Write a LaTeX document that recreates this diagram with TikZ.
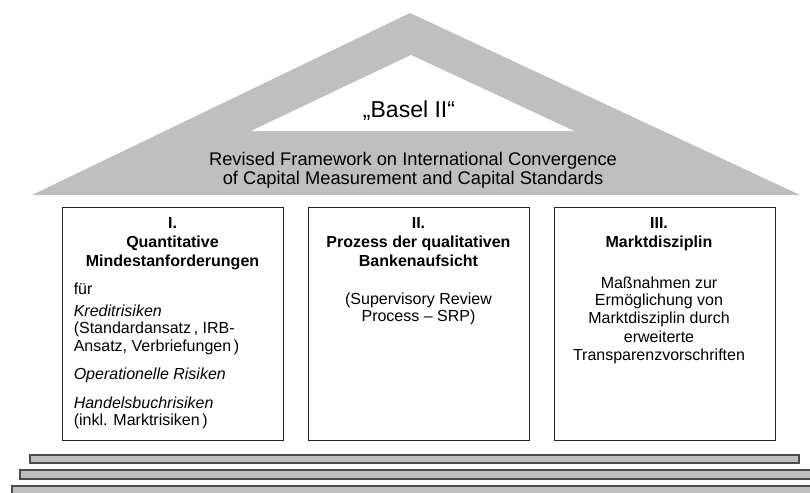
\documentclass[tikz,border=0pt]{standalone}
\usepackage{fontspec}
\setmainfont{Liberation Sans}
\usetikzlibrary{positioning}

\tikzset{
  saeule/.style={draw=black!85, line width=0.8pt, fill=white, minimum width=221pt, minimum height=233pt, inner sep=0pt},
  stufe/.style={draw=black!70, line width=1.2pt, fill=black!25},
  kopf/.style={font=\bfseries\fontsize{16}{19}\selectfont, align=center, inner sep=0pt},
  rumpf/.style={font=\fontsize{16}{17.5}\selectfont, inner sep=0pt}
}

\begin{document}
\begin{tikzpicture}[x=1pt,y=1pt,yscale=-1,xscale=1]
\useasboundingbox (0,0) rectangle (810,492);

%Shape: Roof [outer triangle]
\fill [black!25] (32,195) -- (410,13) -- (800,195) -- cycle ;
%Shape: Roof [inner triangle]
\fill [white] (251,131) -- (411,55) -- (574,131) -- cycle ;

% Text Node
\node (basel) at (409,111) {\fontsize{23}{27}\selectfont „Basel II“};
% Text Node
\node (rahmen) at (413,170.5) [align=center, font=\fontsize{18.3}{19}\selectfont] {Revised Framework on International Convergence\\of Capital Measurement and Capital Standards};

%Shape: Pillars
\node [saeule] (p1) at (172.5,323.5) {};
\node [saeule] (p2) at (418.5,323.5) {};
\node [saeule] (p3) at (665,323.5) {};

% Text Node
\node [kopf, below=11pt of p1.north] (k1) {I.\\Quantitative\\Mindestanforderungen};
\node [rumpf, align=left, below right=76.5pt and 12pt of p1.north west] (r1) {für\\[4pt]
  \textit{Kreditrisiken}\\
  (Standardansatz\,, IRB-\\
  Ansatz, Verbriefungen\,)\\[11pt]
  \textit{Operationelle Risiken}\\[11pt]
  \textit{Handelsbuchrisiken}\\
  (inkl. Marktrisiken\,)};
% Text Node
\node [kopf, below=11pt of p2.north] (k2) {II.\\Prozess der qualitativen\\Bankenaufsicht};
\node [rumpf, align=center, below=86pt of p2.north] (r2) {(Supervisory Review\\Process – SRP)};
% Text Node
\node [kopf, below=11pt of p3.north, xshift=-6pt] (k3) {III.\\Marktdisziplin};
\node [rumpf, align=center, below=70pt of p3.north, xshift=-6pt] (r3) {Maßnahmen zur\\Ermöglichung von\\Marktdisziplin durch\\[2pt]erweiterte\\Transparenzvorschriften};

%Shape: Steps
\draw [stufe] (30,455) rectangle (799,463) ;
\draw [stufe] (20,470) rectangle (813,479) ;
\draw [stufe] (12,486) rectangle (815,496) ;

\end{tikzpicture}
\end{document}
